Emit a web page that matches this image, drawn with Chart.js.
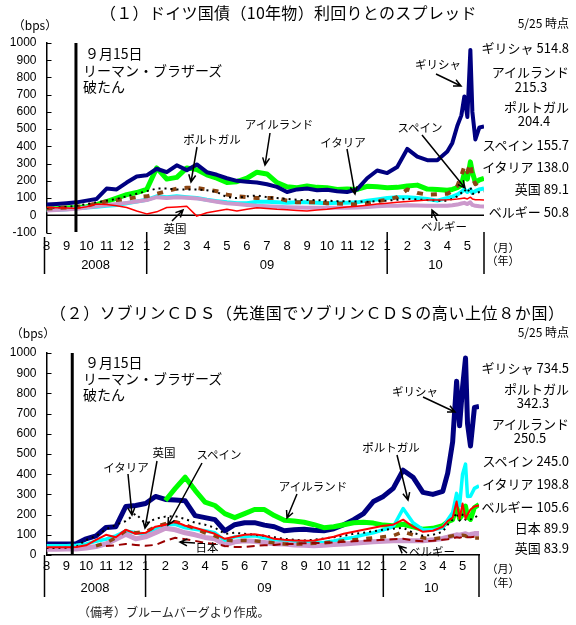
<!DOCTYPE html>
<html lang="ja">
<head>
<meta charset="utf-8">
<title>ドイツ国債スプレッドとソブリンCDS</title>
<script src="https://cdn.jsdelivr.net/npm/chart.js@4.4.1/dist/chart.umd.min.js"></script>
<style>
  body { margin: 0; background: #fff; }
  #page { position: relative; width: 576px; height: 625px; overflow: hidden; font-family: "Noto Sans CJK JP", sans-serif; color: #000; }
  canvas { position: absolute; left: 0; }
  .c { position: absolute; transform: translate(-50%, -50%); white-space: nowrap; line-height: 1; font-size: 11.5px; }
  .l { position: absolute; transform: translateY(-50%); white-space: nowrap; line-height: 1; font-size: 14px; }
  .r { position: absolute; right: 7px; transform: translateY(-50%); white-space: nowrap; line-height: 1; font-size: 13px; }
  .title { position: absolute; transform: translateY(-50%); white-space: nowrap; line-height: 1; font-size: 16px; }
</style>
</head>
<body>
<div id="page">
  <canvas id="c1" width="576" height="300" style="top:0"></canvas>
  <canvas id="c2" width="576" height="325" style="top:300px"></canvas>

  <!-- (1) -->
  <div class="title" style="left:100px;top:12px;letter-spacing:0.3px">（１）ドイツ国債（10年物）利回りとのスプレッド</div>
  <div class="c" style="left:35px;top:25px;font-size:12px">（bps）</div>
  <div class="r" style="top:23px;font-size:12px">5/25 時点</div>
  <div class="r" style="top:47px">ギリシャ 514.8</div>
  <div class="r" style="top:71px">アイルランド</div>
  <div class="c" style="left:531px;top:86px;font-size:13px">215.3</div>
  <div class="r" style="top:106px">ポルトガル</div>
  <div class="c" style="left:534px;top:120px;font-size:13px">204.4</div>
  <div class="r" style="top:144px">スペイン 155.7</div>
  <div class="r" style="top:166px">イタリア 138.0</div>
  <div class="r" style="top:188px">英国 89.1</div>
  <div class="r" style="top:211px">ベルギー 50.8</div>
  <div class="l" style="left:85px;top:53px">９月15日</div>
  <div class="l" style="left:83px;top:70px">リーマン・ブラザーズ</div>
  <div class="l" style="left:83px;top:86px">破たん</div>
  <div class="c" style="left:212px;top:140px">ポルトガル</div>
  <div class="c" style="left:279px;top:125px">アイルランド</div>
  <div class="c" style="left:343px;top:143px">イタリア</div>
  <div class="c" style="left:420px;top:128px">スペイン</div>
  <div class="c" style="left:438px;top:65px">ギリシャ</div>
  <div class="c" style="left:175px;top:229px">英国</div>
  <div class="c" style="left:444px;top:227px">ベルギー</div>
  <div class="c" style="left:503px;top:247px;font-size:11px">（月）</div>
  <div class="c" style="left:503px;top:260px;font-size:11px">（年）</div>

  <!-- (2) -->
  <div class="title" style="left:50px;top:312px;letter-spacing:0.6px">（２）ソブリンＣＤＳ（先進国でソブリンＣＤＳの高い上位８か国）</div>
  <div class="c" style="left:33px;top:333px;font-size:12px">（bps）</div>
  <div class="r" style="top:332px;font-size:12px">5/25 時点</div>
  <div class="r" style="top:367px">ギリシャ 734.5</div>
  <div class="r" style="top:388px">ポルトガル</div>
  <div class="c" style="left:533px;top:402px;font-size:13px">342.3</div>
  <div class="r" style="top:423px">アイルランド</div>
  <div class="c" style="left:530px;top:437px;font-size:13px">250.5</div>
  <div class="r" style="top:460px">スペイン 245.0</div>
  <div class="r" style="top:483px">イタリア 198.8</div>
  <div class="r" style="top:506px">ベルギー 105.6</div>
  <div class="r" style="top:527px">日本 89.9</div>
  <div class="r" style="top:547px">英国 83.9</div>
  <div class="l" style="left:85px;top:362px">９月15日</div>
  <div class="l" style="left:83px;top:378px">リーマン・ブラザーズ</div>
  <div class="l" style="left:83px;top:394px">破たん</div>
  <div class="c" style="left:126px;top:468px">イタリア</div>
  <div class="c" style="left:164px;top:453px">英国</div>
  <div class="c" style="left:219px;top:455px">スペイン</div>
  <div class="c" style="left:207px;top:548px">日本</div>
  <div class="c" style="left:313px;top:487px">アイルランド</div>
  <div class="c" style="left:391px;top:448px">ポルトガル</div>
  <div class="c" style="left:415px;top:392px">ギリシャ</div>
  <div class="c" style="left:432px;top:552px">ベルギー</div>
  <div class="c" style="left:503px;top:568px;font-size:11px">（月）</div>
  <div class="c" style="left:503px;top:582px;font-size:11px">（年）</div>

  <div class="l" style="left:78px;top:612px;font-size:12px;color:#222">（備考）ブルームバーグより作成。</div>
</div>

<script>
// 経過月数（2008年8月1日 = 0）
const T = [0,0.5,1,1.5,2,2.5,3,3.5,4,4.5,5,5.5,6,6.5,7,7.5,8,8.5,9,9.5,10,10.5,11,11.5,12,12.5,13,13.5,14,14.5,15,15.5,16,16.5,17,17.5,18,18.5,19,19.5,20,20.25,20.5,20.7,20.85,21.0,21.15,21.25,21.4,21.6,21.83];
const MONTH_LABELS = ['8','9','10','11','12','1','2','3','4','5','6','7','8','9','10','11','12','1','2','3','4','5'];
const YEAR_LABELS = ['2008','09','10'];
const X_MAX = 21.83; // 5/25

// (1) ドイツ国債とのスプレッド (bps)
const grc1 = [63,66,70,75,85,95,155,150,190,225, 232,270,250,290,262,295,250,235,215,200, 195,190,180,165,135,150,155,145,148,140, 135,150,215,260,245,280,385,340,320,320, 370,420,520,580,690,570,960,600,440,510,515];
const irl1 = [35,38,42,45,50,62,80,100,120,132, 150,275,210,220,275,265,235,215,190,195, 215,250,240,190,165,160,170,162,160,150, 152,150,168,165,160,162,170,175,152,150, 145,150,160,175,245,210,310,250,190,205,215];
const prt1 = [40,42,45,48,55,70,80,88,95,105, 110,125,140,155,160,158,150,140,120,110, 105,100,100,100,85,75,75,75,70,68, 65,63,70,82,90,105,150,130,120,122, 125,140,170,230,285,250,300,220,180,195,204];
const esp1 = [30,32,35,40,45,50,55,60,70,80, 90,110,105,110,105,100,90,82,75,70, 70,78,78,75,72,75,75,72,70,72, 72,75,85,92,100,105,105,100,95,85, 100,108,120,135,150,135,150,130,140,150,156];
const ita1 = [42,45,48,55,65,75,85,95,110,125, 140,155,155,150,150,150,145,135,105,100, 110,115,105,100,95,90,88,88,85,82, 82,80,78,82,85,90,95,92,88,85, 85,95,110,130,150,130,165,125,125,135,138];
const gbr1 = [45,43,42,40,50,65,62,55,45,25, 8,20,45,48,52,-5,15,25,35,25, 35,44,40,35,32,28,25,30,35,42, 48,52,58,65,70,75,80,85,88,88, 90,92,95,98,100,95,105,95,90,90,89];
const bel1 = [28,30,33,38,45,52,60,65,72,80, 88,105,100,105,102,98,88,78,70,65, 60,55,52,50,47,45,44,44,43,44, 44,45,48,52,55,56,58,57,56,55, 55,58,62,68,72,65,75,60,55,52,51];

// (2) ソブリンCDS (bps)
const grc2 = [54,54,55,56,80,95,136,140,240,245, 255,290,275,272,268,195,185,175,120,150, 160,160,148,140,120,125,128,122,120,130, 150,175,205,265,290,330,420,385,310,300, 315,405,560,860,640,830,975,650,540,730,735];
const irl2 = [null,null,null,null,null,null,null,null,null,null,null,null, 270,330,385,320,262,245,205,185, 205,225,225,195,172,168,162,150,135,140, 150,160,162,158,148,145,152,140,127,132, 145,165,175,242,180,200,242,190,176,235,250];
const prt2 = [46,46,46,48,55,68,78,95,119,110, 103,130,150,152,135,127,120,110,72,90, 92,95,85,75,70,68,65,62,62,70, 80,87,100,110,125,140,230,160,125,125, 135,175,210,305,245,400,450,290,291,330,342];
const esp2 = [38,38,38,40,48,75,100,88,125,105, 110,140,150,165,145,135,120,105,80,90, 100,103,95,80,75,72,70,72,80,90, 105,115,125,135,145,150,175,140,115,120, 140,168,185,265,180,255,180,200,225,240,245];
const ita2 = [35,35,36,40,75,95,127,150,168,205, 155,180,190,192,178,160,150,135,105,110, 105,100,95,88,80,75,72,75,82,88, 95,105,110,118,125,130,135,110,95,100, 115,150,175,210,170,200,175,170,176,185,199];
const bel2 = [29,29,30,30,35,42,55,78,103,80, 90,110,132,125,110,100,87,80,50,65, 70,68,62,56,54,50,48,46,48,52, 55,58,62,65,68,70,72,70,70,75, 82,88,95,100,98,102,105,100,102,106,106];
const jpn2 = [null,null,null,null,null,null, 45,48,55,50, 46,50,70,85,78,70,60,55,45,40, 40,45,48,50,55,55,58,60,60,62, 65,68,70,72,75,78,80,72,68,70, 75,78,82,88,85,90,92,88,88,90,90];
const gbr2 = [null,null,null,null,null, 45,60,85,120,110, 115,140,155,165,150,130,110,95,75,70, 72,70,65,60,55,55,55,58,60,65, 70,75,80,85,90,95,115,100,85,80, 85,90,95,100,95,98,95,88,85,84,84];

Chart.defaults.font.family = '"Liberation Sans", Arial, sans-serif';
Chart.defaults.color = '#000';

function ds(label, arr, color, width, dash, order) {
  return {
    label: label,
    data: T.map((x, i) => ({ x: x, y: arr[i] })),
    borderColor: color,
    borderWidth: width,
    borderDash: dash || [],
    order: order,
    pointRadius: 0,
    fill: false,
    spanGaps: false
  };
}

function arrow(ctx, x1, y1, x2, y2) {
  const a = Math.atan2(y2 - y1, x2 - x1);
  const h = 8;
  ctx.beginPath();
  ctx.moveTo(x1, y1);
  ctx.lineTo(x2, y2);
  ctx.moveTo(x2 - h * Math.cos(a - 0.45), y2 - h * Math.sin(a - 0.45));
  ctx.lineTo(x2, y2);
  ctx.lineTo(x2 - h * Math.cos(a + 0.45), y2 - h * Math.sin(a + 0.45));
  ctx.stroke();
}

function decor(cfg) {
  return {
    id: 'decor',
    beforeDatasetsDraw(chart) {
      if (!cfg.zeroLine) return;
      const { ctx, chartArea: a, scales: { y } } = chart;
      const y0 = y.getPixelForValue(0);
      ctx.save();
      ctx.strokeStyle = '#000';
      ctx.lineWidth = 1.5;
      ctx.beginPath();
      ctx.moveTo(a.left, y0);
      ctx.lineTo(a.right, y0);
      ctx.stroke();
      ctx.restore();
    },
    afterDatasetsDraw(chart) {
      const { ctx, chartArea: a, scales: { x, y } } = chart;
      ctx.save();
      ctx.strokeStyle = '#000';
      ctx.fillStyle = '#000';
      // 内向きの目盛り
      ctx.lineWidth = 1;
      y.ticks.forEach(t => {
        const py = Math.round(y.getPixelForValue(t.value)) + 0.5;
        ctx.beginPath();
        ctx.moveTo(a.left, py);
        ctx.lineTo(a.left + 5, py);
        ctx.stroke();
      });
      // リーマン破たん
      const lx = x.getPixelForValue(cfg.lehman);
      ctx.lineWidth = 3;
      ctx.beginPath();
      ctx.moveTo(lx, a.top);
      ctx.lineTo(lx, cfg.lehmanBottom);
      ctx.stroke();
      // 年の区切り
      ctx.lineWidth = 1.5;
      const xs = [a.left - 2, x.getPixelForValue(5), x.getPixelForValue(17), a.right];
      xs.forEach((px, i) => {
        ctx.beginPath();
        ctx.moveTo(px, i === 0 ? cfg.sepTop0 : cfg.sepTop);
        ctx.lineTo(px, cfg.sepBottom);
        ctx.stroke();
      });
      ctx.font = '13px "Liberation Sans"';
      ctx.textAlign = 'center';
      ctx.textBaseline = 'middle';
      YEAR_LABELS.forEach((s, i) => ctx.fillText(s, (xs[i] + xs[i + 1]) / 2, cfg.yearY));
      // 矢印
      ctx.lineWidth = 1.5;
      cfg.arrows.forEach(p => arrow(ctx, p[0], p[1] - cfg.top, p[2], p[3] - cfg.top));
      ctx.restore();
    }
  };
}

function makeChart(id, datasets, cfg) {
  return new Chart(document.getElementById(id), {
    type: 'line',
    data: { datasets: datasets },
    options: {
      responsive: false,
      animation: false,
      layout: { autoPadding: false, padding: { left: 0, right: cfg.padRight, top: cfg.padTop, bottom: 0 } },
      plugins: { legend: { display: false }, tooltip: { enabled: false } },
      elements: { line: { tension: 0, borderJoinStyle: 'round' } },
      scales: {
        x: {
          type: 'linear',
          min: 0,
          max: X_MAX,
          grid: { display: false, drawTicks: false },
          border: { display: cfg.xBorder, color: '#000', width: 1.5 },
          afterBuildTicks: s => { s.ticks = MONTH_LABELS.map((m, i) => ({ value: i })); },
          afterFit: s => { s.height = cfg.xHeight; },
          ticks: {
            autoSkip: false,
            maxRotation: 0,
            padding: cfg.xPad,
            font: { size: 13 },
            callback: (v, i) => MONTH_LABELS[i]
          }
        },
        y: {
          min: cfg.yMin,
          max: 1000,
          afterFit: s => { s.width = 46.5; },
          grid: { display: false, drawTicks: false },
          border: { display: true, color: '#000', width: 1.5 },
          ticks: { stepSize: 100, autoSkip: false, padding: 10, font: { size: 12 }, callback: v => String(v) }
        }
      }
    },
    plugins: [decor(cfg)]
  });
}

makeChart('c1', [
  ds('英国', gbr1, '#ff0000', 1.5, null, 0),
  ds('イタリア', ita1, '#000000', 2, [2, 4], 1),
  ds('ポルトガル', prt1, '#8b4513', 4, [6, 8], 2),
  ds('ベルギー', bel1, '#cc99cc', 4, null, 3),
  ds('スペイン', esp1, '#00ffff', 4, null, 4),
  ds('ギリシャ', grc1, '#000080', 4, null, 5),
  ds('アイルランド', irl1, '#00ff00', 5, null, 6)
], {
  top: 0, padRight: 92, padTop: 43, xHeight: 67.5, xPad: 6.5, yMin: -100, xBorder: false, zeroLine: true,
  lehman: 1.47, lehmanBottom: 232, sepTop: 232, sepTop0: 237, sepBottom: 274, yearY: 265,
  arrows: [
    [197, 147, 191, 182], [270, 133, 265, 165], [347, 149, 355, 194], [422, 135, 465, 188],
    [436, 74, 461, 86], [172, 221, 183, 210], [437, 221, 432, 210]
  ]
});

makeChart('c2', [
  ds('スペイン', esp2, '#ff0000', 2, null, 0),
  ds('イタリア', ita2, '#000000', 2, [2, 4], 1),
  ds('日本', jpn2, '#990000', 2, [8, 5], 2),
  ds('英国', gbr2, '#8b4513', 3.5, [6, 8], 3),
  ds('ベルギー', bel2, '#cc99cc', 5, null, 4),
  ds('ポルトガル', prt2, '#00ffff', 3.5, null, 5),
  ds('アイルランド', irl2, '#00ff00', 5, null, 6),
  ds('ギリシャ', grc2, '#000080', 5, null, 7)
], {
  top: 300, padRight: 97, padTop: 53, xHeight: 70, xPad: 4, yMin: 0, xBorder: true, zeroLine: false,
  lehman: 1.3, lehmanBottom: 255, sepTop: 255, sepTop0: 255, sepBottom: 297, yearY: 288,
  arrows: [
    [128, 474, 132, 515], [157, 461, 145, 528], [202, 463, 168, 525], [195, 543, 180, 542],
    [297, 494, 287, 518], [397, 455, 408, 500], [423, 397, 455, 412], [407, 553, 399, 546]
  ]
});
</script>
</body>
</html>
